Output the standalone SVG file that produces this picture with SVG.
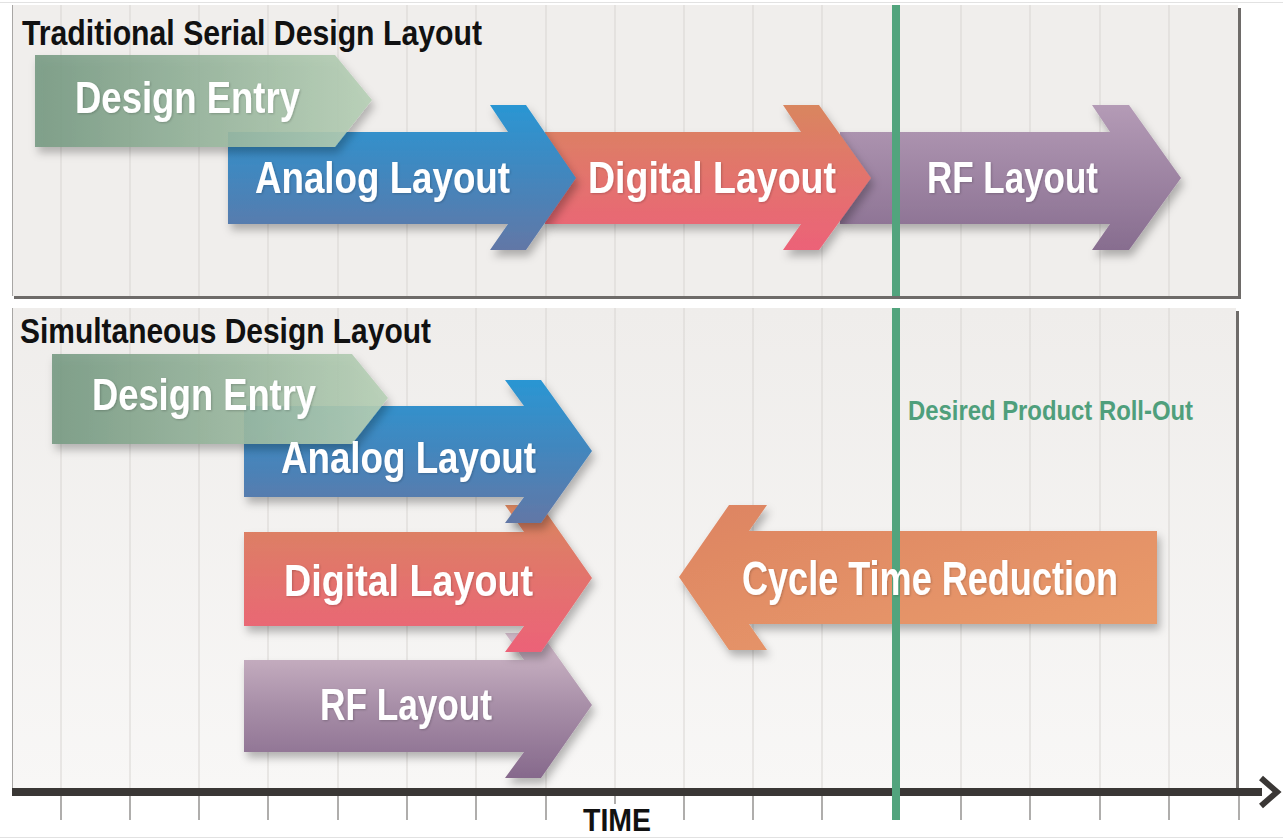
<svg xmlns="http://www.w3.org/2000/svg" width="1283" height="839" viewBox="0 0 1283 839">
<defs>
<style>
.lbl{font-family:"Liberation Sans Narrow","Liberation Sans",Arial,sans-serif;font-weight:bold;fill:#fff}
.ttl{font-family:"Liberation Sans Narrow","Liberation Sans",Arial,sans-serif;font-weight:bold;fill:#111}
.grid line{stroke:#d8d5d2;stroke-width:1}
.ticks line{stroke:#7a7775;stroke-width:1.2}
.panel{fill:#f0eeec}
</style>
<linearGradient id="gGreen" x1="0" y1="0" x2="1" y2="0"><stop offset="0" stop-color="#779a83"/><stop offset="1" stop-color="#b7d0b6"/></linearGradient>
<linearGradient id="gBlue" x1="0" y1="0" x2="0" y2="1"><stop offset="0" stop-color="#2a96d3"/><stop offset="0.5" stop-color="#4386bd"/><stop offset="1" stop-color="#6277a6"/></linearGradient>
<linearGradient id="gRed" x1="0" y1="0" x2="0" y2="1"><stop offset="0" stop-color="#d9865f"/><stop offset="0.5" stop-color="#e3736d"/><stop offset="1" stop-color="#ec6278"/></linearGradient>
<linearGradient id="gPurpleT" x1="0" y1="0" x2="0" y2="1"><stop offset="0" stop-color="#b49bb6"/><stop offset="1" stop-color="#876d8f"/></linearGradient>
<linearGradient id="gPurpleB" x1="0" y1="0" x2="0" y2="1"><stop offset="0" stop-color="#d3bccb"/><stop offset="0.5" stop-color="#a88fa8"/><stop offset="1" stop-color="#86698c"/></linearGradient>
<linearGradient id="gOrange" x1="0" y1="0" x2="1" y2="1"><stop offset="0" stop-color="#dd8462"/><stop offset="1" stop-color="#ea9d6b"/></linearGradient>
<linearGradient id="gPanelB" x1="0" y1="0" x2="0" y2="1"><stop offset="0" stop-color="#efedeb"/><stop offset="1" stop-color="#f8f7f6"/></linearGradient>
<filter id="sh" x="-10%" y="-10%" width="125%" height="135%"><feDropShadow dx="3" dy="6" stdDeviation="4" flood-color="#000" flood-opacity="0.28"/></filter>
<filter id="tsh" x="-5%" y="-10%" width="110%" height="130%"><feDropShadow dx="1" dy="1" stdDeviation="1" flood-color="#000" flood-opacity="0.2"/></filter>
</defs>
<rect width="1283" height="839" fill="#fff"/>
<line x1="0" y1="2.5" x2="1283" y2="2.5" stroke="#e2e2e2" stroke-width="1"/>
<line x1="0" y1="837.5" x2="1283" y2="837.5" stroke="#e2e2e2" stroke-width="1"/>

<g id="panel-top">
<rect x="14" y="8" width="1227" height="291" fill="#6e6b69"/>
<rect class="panel" x="12" y="5" width="1226" height="291"/>
<line x1="12.5" y1="5" x2="12.5" y2="296" stroke="#a8a6a4" stroke-width="1"/>
</g>
<g id="panel-bottom">
<rect x="14" y="311" width="1225" height="477" fill="#6e6b69"/>
<rect x="12" y="308" width="1224" height="480" fill="url(#gPanelB)"/>
<line x1="12.5" y1="308" x2="12.5" y2="788" stroke="#a8a6a4" stroke-width="1"/>
</g>

<g class="grid" id="grid-top">
<line x1="61" y1="5" x2="61" y2="296"/><line x1="130" y1="5" x2="130" y2="296"/><line x1="199" y1="5" x2="199" y2="296"/><line x1="268" y1="5" x2="268" y2="296"/><line x1="338" y1="5" x2="338" y2="296"/><line x1="407" y1="5" x2="407" y2="296"/><line x1="476" y1="5" x2="476" y2="296"/><line x1="546" y1="5" x2="546" y2="296"/><line x1="615" y1="5" x2="615" y2="296"/><line x1="684" y1="5" x2="684" y2="296"/><line x1="753" y1="5" x2="753" y2="296"/><line x1="822" y1="5" x2="822" y2="296"/><line x1="961" y1="5" x2="961" y2="296"/><line x1="1030" y1="5" x2="1030" y2="296"/><line x1="1100" y1="5" x2="1100" y2="296"/><line x1="1169" y1="5" x2="1169" y2="296"/>
</g>
<g class="grid" id="grid-bottom">
<line x1="61" y1="308" x2="61" y2="788"/><line x1="130" y1="308" x2="130" y2="788"/><line x1="199" y1="308" x2="199" y2="788"/><line x1="268" y1="308" x2="268" y2="788"/><line x1="338" y1="308" x2="338" y2="788"/><line x1="407" y1="308" x2="407" y2="788"/><line x1="476" y1="308" x2="476" y2="788"/><line x1="546" y1="308" x2="546" y2="788"/><line x1="615" y1="308" x2="615" y2="788"/><line x1="684" y1="308" x2="684" y2="788"/><line x1="753" y1="308" x2="753" y2="788"/><line x1="822" y1="308" x2="822" y2="788"/><line x1="961" y1="308" x2="961" y2="788"/><line x1="1030" y1="308" x2="1030" y2="788"/><line x1="1100" y1="308" x2="1100" y2="788"/><line x1="1169" y1="308" x2="1169" y2="788"/>
</g>

<text class="ttl" x="22" y="45" font-size="35" textLength="460" lengthAdjust="spacingAndGlyphs">Traditional Serial Design Layout</text>
<text class="ttl" x="20" y="343" font-size="35" textLength="411" lengthAdjust="spacingAndGlyphs">Simultaneous Design Layout</text>

<!-- top panel arrows -->
<g id="top-rf" filter="url(#sh)">
<polygon points="840,132 1110,132 1092,105 1129,105 1181,178 1129,250 1092,250 1110,224 840,224" fill="url(#gPurpleT)"/>
</g>
<g id="top-digital" filter="url(#sh)">
<polygon points="545,132 801,132 783,105 819,105 871,178 819,250 783,250 801,224 545,224" fill="url(#gRed)"/>
</g>
<g id="top-analog" filter="url(#sh)">
<polygon points="228,132 508,132 490,105 526,105 576,178 526,250 490,250 508,224 228,224" fill="url(#gBlue)"/>
</g>
<g id="top-entry" filter="url(#sh)">
<polygon points="35,55 335,55 372,100 335,147 35,147" fill="url(#gGreen)" fill-opacity="0.9"/>
</g>

<!-- bottom panel arrows -->
<g id="bottom-rf" filter="url(#sh)">
<polygon points="244,660 524,660 505,633 541,633 592,705 541,778 505,778 524,752 244,752" fill="url(#gPurpleB)"/>
</g>
<g id="bottom-digital" filter="url(#sh)">
<polygon points="244,532 524,532 505,505 541,505 592,578 541,652 505,652 524,626 244,626" fill="url(#gRed)"/>
</g>
<g id="bottom-analog" filter="url(#sh)">
<polygon points="244,406 524,406 505,380 541,380 592,451 541,523 505,523 524,497 244,497" fill="url(#gBlue)"/>
</g>
<g id="bottom-entry" filter="url(#sh)">
<polygon points="52,354 352,354 388,398 352,444 52,444" fill="url(#gGreen)" fill-opacity="0.9"/>
</g>
<g id="cycle" filter="url(#sh)">
<polygon points="679,577 729,505 767,505 749,531 1157,531 1157,624 749,624 767,650 729,650" fill="url(#gOrange)"/>
</g>

<!-- axis -->
<g id="axis">
<rect x="12" y="788" width="1250" height="8" fill="#3a3735"/>
<polyline points="1261,778 1277,792 1261,806" fill="none" stroke="#3a3735" stroke-width="6"/>
<g class="ticks">
<line x1="61" y1="796" x2="61" y2="820"/><line x1="130" y1="796" x2="130" y2="820"/><line x1="199" y1="796" x2="199" y2="820"/><line x1="268" y1="796" x2="268" y2="820"/><line x1="338" y1="796" x2="338" y2="820"/><line x1="407" y1="796" x2="407" y2="820"/><line x1="476" y1="796" x2="476" y2="820"/><line x1="546" y1="796" x2="546" y2="820"/><line x1="615" y1="796" x2="615" y2="804"/><line x1="684" y1="796" x2="684" y2="820"/><line x1="753" y1="796" x2="753" y2="820"/><line x1="822" y1="796" x2="822" y2="820"/><line x1="961" y1="796" x2="961" y2="820"/><line x1="1030" y1="796" x2="1030" y2="820"/><line x1="1100" y1="796" x2="1100" y2="820"/><line x1="1169" y1="796" x2="1169" y2="820"/><line x1="1239" y1="796" x2="1239" y2="820"/>
</g>
</g>

<!-- green roll-out line -->
<g id="rollout">
<rect x="892" y="5" width="8" height="291" fill="#52a47d"/>
<rect x="892" y="308" width="8" height="512" fill="#52a47d"/>
</g>

<!-- labels -->
<g filter="url(#tsh)">
<text class="lbl" x="75" y="113" font-size="44" textLength="225" lengthAdjust="spacingAndGlyphs">Design Entry</text>
<text class="lbl" x="255" y="193" font-size="44" textLength="255" lengthAdjust="spacingAndGlyphs">Analog Layout</text>
<text class="lbl" x="588" y="193" font-size="44" textLength="248" lengthAdjust="spacingAndGlyphs">Digital Layout</text>
<text class="lbl" x="927" y="193" font-size="44" textLength="171" lengthAdjust="spacingAndGlyphs">RF Layout</text>
<text class="lbl" x="92" y="410" font-size="44" textLength="224" lengthAdjust="spacingAndGlyphs">Design Entry</text>
<text class="lbl" x="281" y="473" font-size="44" textLength="255" lengthAdjust="spacingAndGlyphs">Analog Layout</text>
<text class="lbl" x="284" y="596" font-size="44" textLength="249" lengthAdjust="spacingAndGlyphs">Digital Layout</text>
<text class="lbl" x="320" y="720" font-size="44" textLength="172" lengthAdjust="spacingAndGlyphs">RF Layout</text>
<text class="lbl" x="742" y="595" font-size="48" textLength="376" lengthAdjust="spacingAndGlyphs">Cycle Time Reduction</text>
</g>
<text x="908" y="420" font-size="28" textLength="285" lengthAdjust="spacingAndGlyphs" style="font-family:'Liberation Sans Narrow','Liberation Sans',Arial,sans-serif;font-weight:bold;fill:#4f9f7c">Desired Product Roll-Out</text>
<text class="ttl" x="583" y="831" font-size="32" textLength="68" lengthAdjust="spacingAndGlyphs">TIME</text>
</svg>
